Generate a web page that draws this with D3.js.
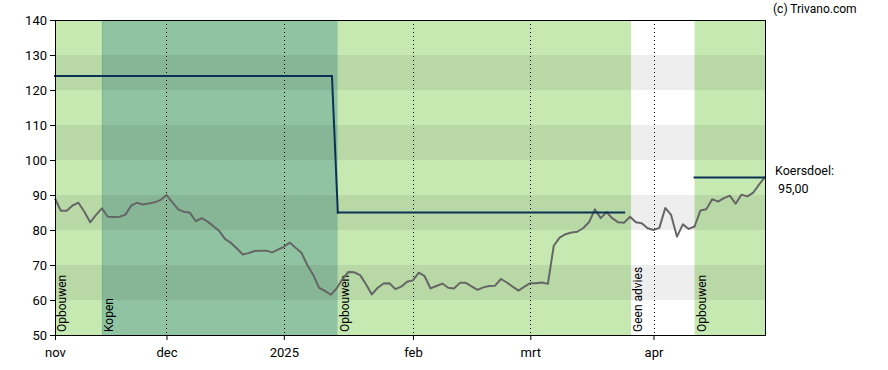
<!DOCTYPE html>
<html><head><meta charset="utf-8">
<script src="https://cdn.jsdelivr.net/npm/d3@7"></script>
<style>body{margin:0;background:#fff;}svg{display:block;font-family:Roboto,"Liberation Sans",Arial,sans-serif;}</style>
</head><body><svg id="c" width="888" height="370"></svg>
<script>
// trading-day indexed price series (index 0 = start of nov)
const prices = [89,85.5,85.5,87.0,87.8,85.2,82.2,84.3,86.2,83.8,83.7,83.8,84.4,87.0,87.8,87.3,87.6,87.9,88.6,90.0,
87.9,85.9,85.2,84.9,82.5,83.4,82.4,81.1,79.7,77.4,76.3,74.7,73.0,73.4,74.0,74.1,74.1,73.6,74.4,75.2,
76.4,74.9,73.5,70.0,67.2,63.5,62.6,61.5,63.3,66.0,68.0,67.9,67.1,64.5,61.6,63.5,64.7,64.8,63.1,63.8,
65.2,65.6,67.8,66.8,63.3,64.0,64.7,63.5,63.3,64.9,64.9,63.9,62.9,63.6,64.0,64.1,66.0,65.0,63.8,62.7,
63.8,64.8,64.8,65.0,64.6,75.5,77.8,78.8,79.3,79.5,80.5,82.2,85.9,83.4,85.1,83.3,82.2,82.1,83.8,82.2,
81.9,80.5,80.0,80.6,86.3,84.3,78.1,81.6,80.3,81.0,85.6,85.9,88.8,88.1,89.1,89.8,87.5,90.1,89.6,90.7,
93.0,95.2];
// koersdoel (price target) segments: [startIndex, endIndex, startValue, endValue]
const targetSegments = [[0,47.2,124,124],[47.2,48.2,124,85],[48.2,97,85,85],[109,121,95,95]];
// advice periods
const advice = [
  {label:"Opbouwen", from:0, to:8, kind:"opbouwen"},
  {label:"Kopen", from:8, to:48.2, kind:"kopen"},
  {label:"Opbouwen", from:48.2, to:98.2, kind:"opbouwen"},
  {label:"Geen advies", from:98.2, to:109, kind:"geen"},
  {label:"Opbouwen", from:109, to:121, kind:"opbouwen"}
];
const xTickLabels = ["nov","dec","2025","feb","mrt","apr"];
const xTickIndex = [0,19,39,61,81,102];
const yTicks = [50,60,70,80,90,100,110,120,130,140];
const targetLabel = ["Koersdoel:","95,00"];

const svg = d3.select("#c");
const m = {l:55, r:123, t:20, b:35};
const W = 888, H = 370;
const x = d3.scaleLinear().domain([0,121]).range([m.l, W-m.r]);
const y = d3.scaleLinear().domain([50,140]).range([H-m.b, m.t]);

const fills = {opbouwen:"#c6e9b2", kopen:"#90c3a1", geen:"#ffffff"};
svg.append("g").selectAll("rect").data(advice).join("rect")
  .attr("x", d=>x(d.from)).attr("width", d=>x(d.to)-x(d.from))
  .attr("y", y(140)).attr("height", y(50)-y(140))
  .attr("fill", d=>fills[d.kind]);
// kopen edge
svg.append("line").attr("x1",x(8)+0.5).attr("x2",x(8)+0.5).attr("y1",y(140)).attr("y2",y(50))
  .attr("stroke","#7dbb8c").attr("stroke-width",1);

// horizontal stripes
const stripes = d3.range(60,140,20);
svg.append("g").selectAll("rect").data(stripes).join("rect")
  .attr("x", x(0)).attr("width", x(121)-x(0))
  .attr("y", d=>y(d+10)).attr("height", d=>y(d)-y(d+10))
  .attr("fill","#000").attr("fill-opacity",0.065);

// dotted month lines
svg.append("g").selectAll("line").data(xTickIndex.slice(1)).join("line")
  .attr("x1", d=>Math.round(x(d))+0.5).attr("x2", d=>Math.round(x(d))+0.5)
  .attr("y1", y(140)).attr("y2", y(50))
  .attr("stroke","#000").attr("stroke-width",1).attr("stroke-dasharray","1,3");

// advice labels
svg.append("g").selectAll("text").data(advice).join("text")
  .attr("transform", d=>`translate(${x(d.from)+11},${y(50)-3}) rotate(-90)`)
  .attr("font-size",12).attr("fill","#000").text(d=>d.label);

// price line
svg.append("path").datum(prices)
  .attr("d", d3.line().x((d,i)=>x(i)).y(d=>y(d)))
  .attr("fill","none").attr("stroke","#666").attr("stroke-width",2).attr("stroke-linejoin","round");

// target line
svg.append("g").selectAll("line").data(targetSegments).join("line")
  .attr("x1", d=>x(d[0])).attr("x2", d=>x(d[1]))
  .attr("y1", d=>y(d[2])).attr("y2", d=>y(d[3]))
  .attr("stroke","#0b3254").attr("stroke-width",2).attr("stroke-linecap","square");

// frame
svg.append("rect").attr("x",x(0)).attr("y",y(140)).attr("width",x(121)-x(0)).attr("height",y(50)-y(140))
  .attr("fill","none").attr("stroke","#000").attr("stroke-width",1).attr("shape-rendering","crispEdges");

// axes
const ya = svg.append("g").attr("transform",`translate(${x(0)},0)`)
  .call(d3.axisLeft(y).tickValues(yTicks).tickSize(5).tickSizeOuter(0));
ya.selectAll("text").attr("font-size",13).attr("fill","#000").attr("font-family","Roboto");
ya.selectAll("line,path").attr("stroke","#000");
const xa = svg.append("g").attr("transform",`translate(0,${y(50)})`)
  .call(d3.axisBottom(x).tickValues(xTickIndex).tickFormat((d,i)=>xTickLabels[i]).tickSize(5).tickSizeOuter(0));
xa.selectAll("text").attr("font-size",13).attr("fill","#000").attr("font-family","Roboto").attr("dy","1.1em");
xa.selectAll("line,path").attr("stroke","#000");

// koersdoel label
svg.append("text").attr("x",x(121)+10).attr("y",y(95)-3).attr("font-size",12.5).attr("fill","#000").text(targetLabel[0]);
svg.append("text").attr("x",x(121)+13).attr("y",y(95)+15).attr("font-size",12.5).attr("fill","#000").text(targetLabel[1]);
// copyright
svg.append("text").attr("x",773).attr("y",13).attr("text-anchor","start").attr("font-size",12).attr("fill","#000").text("(c) Trivano.com");
</script></body></html>
